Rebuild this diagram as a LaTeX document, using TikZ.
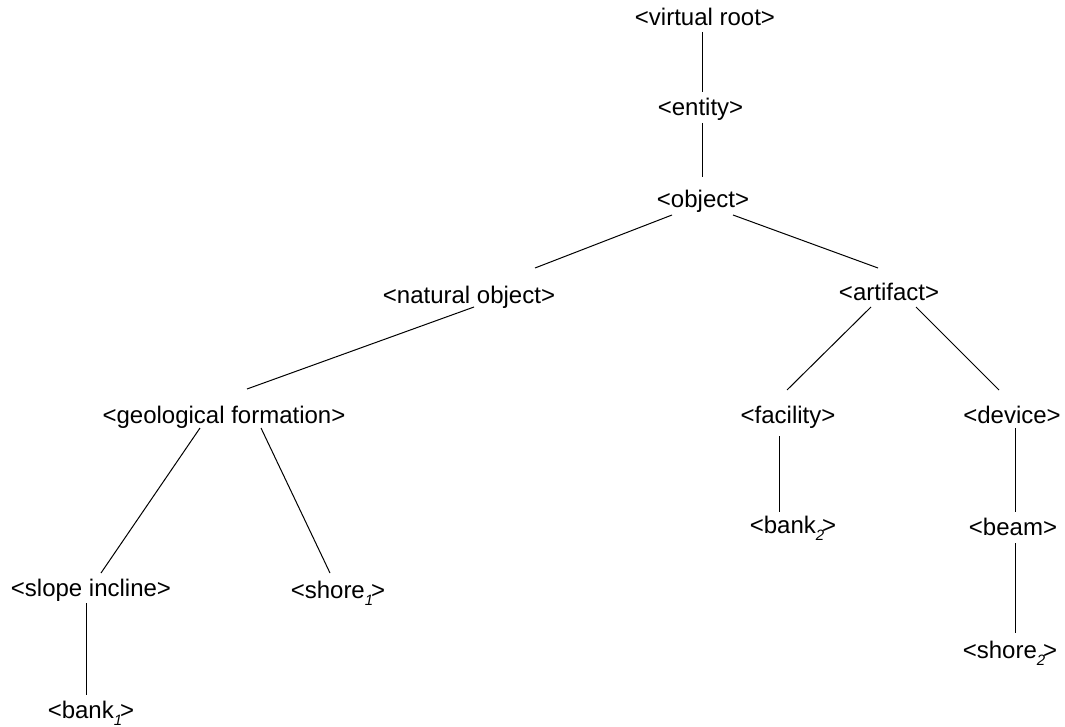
\documentclass[tikz,border=0pt]{standalone}
\usepackage{fontspec}
\setmainfont{Liberation Sans}
\newcommand{\sub}[1]{\raisebox{-7pt}{\fontsize{15}{15}\selectfont\itshape #1}\kern-2pt}
\begin{document}
\begin{tikzpicture}[x=1pt,y=-1pt,
		sense/.style={inner sep=0pt,text height=17pt,text depth=1pt,font=\fontsize{24}{28}\selectfont},
		edge/.style={line width=1pt}]
		  		\useasboundingbox (0,0) rectangle (1065,727);
		  		\node[sense] (root) at (705,18) {<virtual root>};
		  		\node[sense] (ent) at (700.5,108) {<entity>};
		  		\node[sense] (obj) at (703,200) {<object>};
		  		\node[sense] (nat) at (469,295) {<natural object>};
		  		\node[sense] (art) at (889,293) {<artifact>};
		  		\node[sense] (geo) at (224,415) {<geological formation>};
		  		\node[sense] (fac) at (788,415) {<facility>};
		  		\node[sense] (dev) at (1012,415) {<device>};
		  		\node[sense] (slope) at (91,588) {<slope incline>};
		  		\node[sense] (shoreA) at (338,590) {<shore\sub{1}>};
		  		\node[sense] (bankB) at (793,525) {<bank\sub{2}>};
		  		\node[sense] (beam) at (1013,527) {<beam>};
		  		\node[sense] (shoreB) at (1010,650) {<shore\sub{2}>};
		  		\node[sense] (bankA) at (91,710) {<bank\sub{1}>};
		  		
		  		\draw[edge] ([shift={(-3,14)}]root.center) -- ([shift={(1.5,-16)}]ent.center);
		  		\draw[edge] ([shift={(1.5,15)}]ent.center) -- ([shift={(-1,-23)}]obj.center);
		  		\draw[edge] ([shift={(-31,15)}]obj.center) -- ([shift={(66,-27)}]nat.center);
		  		\draw[edge] ([shift={(30,15)}]obj.center) -- ([shift={(-11,-25)}]art.center);
		  		\draw[edge] ([shift={(5,12)}]nat.center) -- ([shift={(23,-26)}]geo.center);
		  		\draw[edge] ([shift={(-18,14)}]art.center) -- ([shift={(-1,-25)}]fac.center);
		  		\draw[edge] ([shift={(27,14)}]art.center) -- ([shift={(-13,-25)}]dev.center);
		  		\draw[edge] ([shift={(-24,13)}]geo.center) -- ([shift={(10,-15)}]slope.center);
		  		\draw[edge] ([shift={(37,13)}]geo.center) -- ([shift={(-8,-17)}]shoreA.center);
		  		\draw[edge] ([shift={(-5,15)}]slope.center) -- ([shift={(-5,-15)}]bankA.center);
		  		\draw[edge] ([shift={(-9,21)}]fac.center) -- ([shift={(-14,-13)}]bankB.center);
		  		\draw[edge] ([shift={(3,13)}]dev.center) -- ([shift={(2,-15)}]beam.center);
		  		\draw[edge] ([shift={(2,16)}]beam.center) -- ([shift={(5,-17)}]shoreB.center);
		  	\end{tikzpicture}
\end{document}
